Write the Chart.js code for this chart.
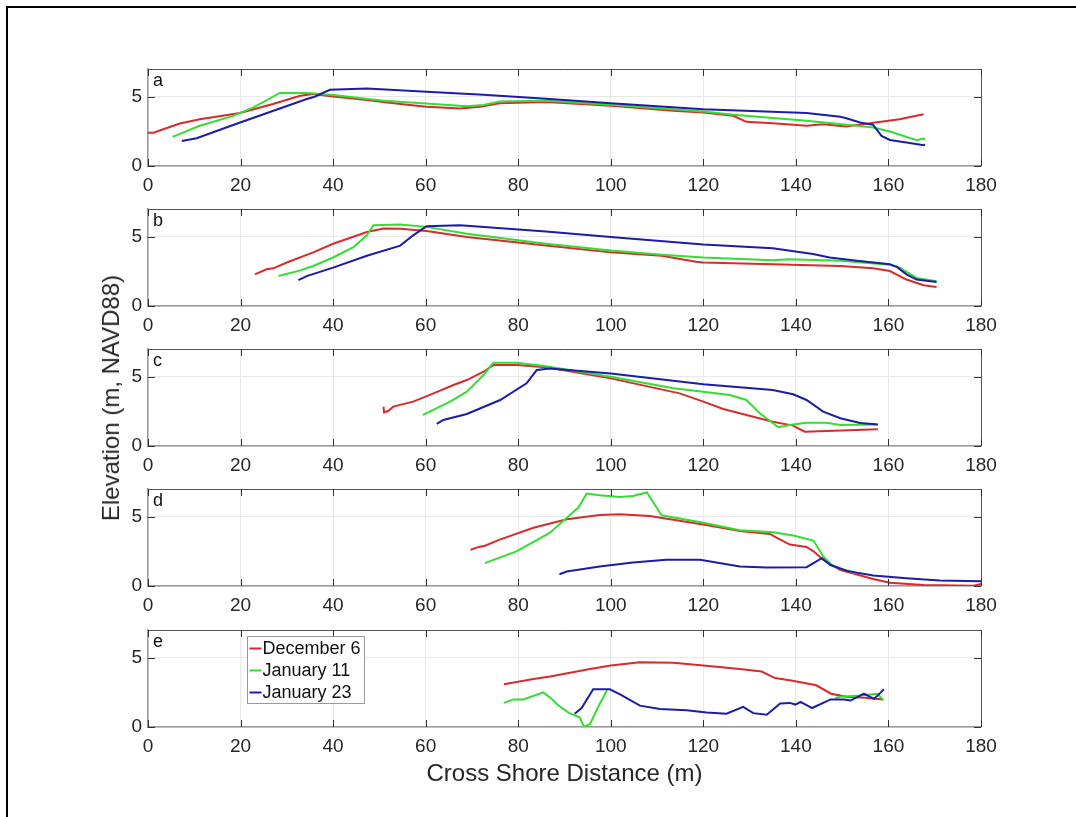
<!DOCTYPE html>
<html>
<head>
<meta charset="utf-8">
<script src="https://cdn.jsdelivr.net/npm/chart.js@4.4.0/dist/chart.umd.min.js"></script>
<style>
  body { margin: 0; background: #fff; width: 1076px; height: 817px; overflow: hidden; position: relative;
         font-family: "Liberation Sans", Arial, sans-serif; }
  #frame { position: absolute; left: 6px; top: 6px; right: 0; bottom: 0;
           border-left: 2px solid #000; border-top: 2px solid #000; }
  canvas { position: absolute; left: 0; }
  #xtitle { position: absolute; left: 148px; width: 833px; top: 759px; text-align: center;
            font-size: 24px; color: #262626; line-height: 28px; }
  #ytitle { position: absolute; left: 111px; top: 398px; transform: translate(-50%, -50%) rotate(-90deg);
            font-size: 24px; white-space: nowrap; color: #262626; line-height: 28px; }
</style>
</head>
<body>
<div id="frame"></div>
<canvas id="pa" width="1076" height="140" style="top:59px"></canvas>
<canvas id="pb" width="1076" height="140" style="top:199px"></canvas>
<canvas id="pc" width="1076" height="140" style="top:339px"></canvas>
<canvas id="pd" width="1076" height="140" style="top:479px"></canvas>
<canvas id="pe" width="1076" height="140" style="top:620px"></canvas>
<div id="xtitle">Cross Shore Distance (m)</div>
<div id="ytitle">Elevation (m, NAVD88)</div>
<script>
"use strict"

// survey dates and line colours
const dates = ['December 6', 'January 11', 'January 23'];
const colors = ['#d92b2b', '#33dd33', '#1c1ca8'];
const panelLetters = ['a', 'b', 'c', 'd', 'e'];
const xTicks = [0, 20, 40, 60, 80, 100, 120, 140, 160, 180];
const yTicks = [0, 5];

// profiles: [cross shore distance (m), elevation (m)]
const aDec6 = [[0,2.4],[1.2,2.4],[3.3,2.65],[6.9,3.07],[11.2,3.38],[19.9,3.82],[27,4.47],[32.9,5.07],[35.7,5.2],[40,5.02],[47.3,4.76],[54.5,4.47],[60.2,4.28],[67.4,4.15],[71.8,4.28],[76,4.52],[86,4.62],[100,4.35],[113.5,3.99],[120,3.86],[126.5,3.62],[129.3,3.19],[135,3.09],[142.3,2.9],[145.9,3.02],[150.9,2.85],[156,3.09],[162.4,3.38],[167.6,3.74]];
const aJan11 = [[5.3,2.1],[11.2,2.9],[18.4,3.62],[22.8,4.23],[28.5,5.27],[34.3,5.27],[40,5.12],[50.9,4.71],[61.7,4.47],[68.9,4.32],[72.5,4.4],[76,4.66],[86,4.7],[100,4.42],[120,3.94],[126.5,3.7],[142.3,3.26],[153.2,2.9],[156.7,2.78],[160.3,2.49],[166.1,1.86],[167.6,1.98],[167.9,1.88]];
const aJan23 = [[7.3,1.81],[10.5,2.0],[19.9,3.14],[28.5,4.15],[34.3,4.83],[36,5.0],[39.3,5.5],[47.3,5.6],[60.2,5.36],[72.5,5.14],[86,4.85],[100,4.52],[120,4.1],[142.3,3.82],[149.6,3.55],[150.9,3.45],[153.9,3.14],[156.7,2.97],[158.5,2.17],[160.3,1.88],[163.9,1.69],[167.6,1.5],[167.9,1.57]];

const bDec6 = [[23.1,2.28],[25.6,2.65],[27.1,2.72],[30,3.14],[35.7,3.87],[40,4.49],[47.3,5.34],[50.9,5.6],[54.5,5.57],[60.2,5.42],[68.9,4.98],[86,4.36],[100,3.87],[111,3.63],[118.4,3.19],[120,3.14],[135,3.01],[149.6,2.89],[156.7,2.72],[160.3,2.52],[163.9,1.91],[167.6,1.5],[170.4,1.37]];
const bJan11 = [[28.2,2.16],[32.9,2.57],[35.7,2.89],[40,3.5],[44.4,4.24],[47.3,5.1],[48.7,5.83],[54.5,5.88],[60.2,5.71],[68.9,5.22],[86,4.5],[100,4.0],[111,3.7],[120,3.5],[135,3.31],[138.6,3.38],[149.6,3.26],[160.3,2.97],[162.4,2.77],[166.1,2.03],[170.4,1.79]];
const bJan23 = [[32.5,1.86],[34.3,2.16],[40,2.77],[47.3,3.63],[54.5,4.36],[57.3,5.1],[60.2,5.76],[67.4,5.83],[86,5.37],[100,4.98],[120,4.44],[135,4.17],[143.7,3.75],[147.3,3.5],[153.2,3.26],[160.3,3.01],[161.8,2.82],[163.9,2.28],[166.1,1.91],[170.4,1.74]];

const cDec6 = [[50.9,2.84],[51,2.43],[51.9,2.52],[53,2.84],[57.3,3.2],[61.7,3.8],[66,4.4],[68.9,4.76],[72.5,5.36],[74.6,5.84],[79.7,5.84],[86,5.68],[100,4.88],[114.9,3.8],[120,3.2],[124.3,2.67],[135,1.75],[139.4,1.47],[141.9,1.03],[157.7,1.2]];
const cJan11 = [[59.4,2.24],[65.3,3.2],[68.9,3.92],[72.5,5.12],[74.6,6.01],[79.7,6.01],[86,5.75],[100,5.0],[113.5,4.16],[120,3.92],[125.7,3.68],[129.3,3.32],[132.2,2.36],[136.2,1.35],[138.6,1.51],[142.3,1.68],[146.6,1.68],[149.6,1.51],[157.7,1.56]];
const cJan23 = [[62.4,1.59],[63.8,1.88],[68.9,2.31],[76.1,3.32],[81.8,4.52],[84,5.48],[86.9,5.6],[100,5.24],[120,4.45],[135,4.04],[139.4,3.73],[142.3,3.32],[145.9,2.48],[149.6,2.0],[153.9,1.66],[157.7,1.56]];

const dDec6 = [[69.7,2.62],[71.5,2.82],[72.8,2.91],[76,3.35],[83.3,4.2],[90.5,4.81],[97.6,5.12],[101.9,5.17],[108.4,5.05],[120,4.44],[127.9,3.96],[134.4,3.76],[135.9,3.47],[138.7,2.99],[142.3,2.82],[143.8,2.5],[145.9,1.89],[149.5,1.17],[156.7,0.51],[160.3,0.24],[167.6,0.07],[178.4,0.02],[180,0.15]];
const dJan11 = [[72.8,1.65],[79.6,2.5],[86.8,3.83],[90.5,4.93],[93,5.66],[94.8,6.67],[97.6,6.55],[101.9,6.43],[104.8,6.5],[107.8,6.75],[109.2,6.02],[111,5.1],[120,4.56],[127.9,4.03],[135.1,3.88],[139.4,3.64],[143.8,3.28],[145.9,2.14],[148.1,1.41],[153.1,0.92]];
const dJan23 = [[88.9,0.85],[90.5,1.04],[91.9,1.12],[97.6,1.41],[104.8,1.7],[112,1.89],[119.3,1.89],[127.9,1.41],[133.7,1.33],[142.3,1.36],[143.8,1.65],[145.6,2.01],[147.4,1.53],[151,1.09],[156.7,0.75],[163.9,0.56],[171.1,0.39],[180,0.34]];

const eDec6 = [[76.9,3.09],[83.3,3.46],[86.9,3.65],[95.5,4.19],[100,4.44],[106.3,4.68],[113.5,4.63],[120,4.44],[127.9,4.19],[132.6,4.0],[135.5,3.53],[139.3,3.33],[144.4,3.01],[147.6,2.4],[150.9,2.18],[154.9,2.11],[158.9,1.99]];
const eJan11 = [[76.9,1.74],[79,1.99],[81.1,1.99],[85.4,2.5],[87,2.1],[88.5,1.6],[91,1.0],[92.5,0.8],[93.3,0.7],[94.2,0],[95.5,0.2],[97.5,1.6],[99.2,2.65],[120,null],[148.5,2.1],[149.6,2.18],[153.9,2.28],[157.6,2.4],[158.9,1.94]];
const eJan23 = [[92.2,0.96],[93.7,1.37],[96.2,2.72],[99.8,2.72],[102,2.35],[106.3,1.54],[110.6,1.3],[116.4,1.2],[120.7,1.05],[125,0.96],[128.6,1.45],[130.8,1.0],[133.7,0.88],[136.6,1.69],[138.7,1.74],[139.9,1.62],[141,1.81],[143.5,1.37],[147.5,1.99],[150.4,1.99],[151.8,1.91],[154.7,2.4],[156.9,2.03],[158.3,2.48],[159,2.72]];

const panels = [
  ['pa', [aDec6, aJan11, aJan23]],
  ['pb', [bDec6, bJan11, bJan23]],
  ['pc', [cDec6, cJan11, cJan23]],
  ['pd', [dDec6, dJan11, dJan23]],
  ['pe', [eDec6, eJan11, eJan23]]
];

const fontFamily = '"Liberation Sans", Arial, sans-serif';
const tickColor = '#262626';

// matlab style box: top/right edges, inward ticks, panel letter, legend
const boxDeco = {
  id: 'boxDeco',
  afterDraw(chart, args, opts) {
    const ctx = chart.ctx;
    const {left, right, top, bottom} = chart.chartArea;
    const sx = chart.scales.x, sy = chart.scales.y;
    ctx.save();
    ctx.strokeStyle = '#555';
    ctx.lineWidth = 1;
    ctx.beginPath();
    ctx.moveTo(left, top + 0.5); ctx.lineTo(right + 0.5, top + 0.5);
    ctx.lineTo(right + 0.5, bottom);
    ctx.stroke();

    ctx.strokeStyle = '#333';
    ctx.beginPath();
    sx.ticks.forEach(t => {
      const px = Math.round(sx.getPixelForValue(t.value)) + 0.5;
      ctx.moveTo(px, bottom); ctx.lineTo(px, bottom - 7);
      ctx.moveTo(px, top); ctx.lineTo(px, top + 7);
    });
    sy.ticks.forEach(t => {
      const py = Math.round(sy.getPixelForValue(t.value)) + 0.5;
      ctx.moveTo(left, py); ctx.lineTo(left + 7, py);
      ctx.moveTo(right, py); ctx.lineTo(right - 7, py);
    });
    ctx.stroke();

    ctx.fillStyle = '#111';
    ctx.font = '18px ' + fontFamily;
    ctx.textBaseline = 'top';
    ctx.textAlign = 'left';
    ctx.fillText(opts.letter, left + 5, top + 3);

    if (opts.legend) {
      const bx = 248 - 0.5, by = top + 6 + 0.5, bw = 117, bh = 67;
      ctx.fillStyle = '#fff';
      ctx.fillRect(bx, by, bw, bh);
      ctx.strokeStyle = '#999';
      ctx.strokeRect(bx, by, bw, bh);
      ctx.textBaseline = 'middle';
      chart.data.datasets.forEach((ds, i) => {
        const cy = by + 12 + i * 22;
        ctx.strokeStyle = ds.borderColor;
        ctx.lineWidth = 2;
        ctx.beginPath();
        ctx.moveTo(bx + 2, cy); ctx.lineTo(bx + 14, cy);
        ctx.stroke();
        ctx.fillStyle = '#111';
        ctx.fillText(ds.label, bx + 15, cy + 1);
      });
    }
    ctx.restore();
  }
};

panels.forEach(([id, series], p) => {
  new Chart(document.getElementById(id), {
    type: 'line',
    data: {
      datasets: series.map((s, i) => ({
        label: dates[i],
        data: s,
        borderColor: colors[i],
        borderWidth: 2,
        pointRadius: 0,
        tension: 0,
        fill: false,
        spanGaps: false,
        order: 2 - i
      }))
    },
    options: {
      responsive: false,
      animation: false,
      devicePixelRatio: 1,
      layout: { padding: { left: 108, right: 95, top: 10, bottom: 0 } },
      plugins: {
        legend: { display: false },
        tooltip: { enabled: false },
        boxDeco: { letter: panelLetters[p], legend: p === 4 }
      },
      scales: {
        x: {
          type: 'linear', min: 0, max: 180,
          afterBuildTicks(s) { s.ticks = xTicks.map(v => ({ value: v })); },
          afterFit(s) { s.height = 33; },
          ticks: { padding: 8, maxRotation: 0, color: tickColor, font: { size: 19, family: fontFamily } },
          grid: { color: '#e9e9e9', drawTicks: false },
          border: { color: '#999', width: 1.5 }
        },
        y: {
          min: 0, max: 7,
          afterBuildTicks(s) { s.ticks = yTicks.map(v => ({ value: v })); },
          afterFit(s) { s.width = 40; s.paddingTop = 0; s.paddingBottom = 0; },
          ticks: { padding: 6, color: tickColor, font: { size: 19, family: fontFamily } },
          grid: { color: '#e9e9e9', drawTicks: false },
          border: { color: '#999', width: 1.5 }
        }
      }
    },
    plugins: [boxDeco]
  });
});
</script>
</body>
</html>
